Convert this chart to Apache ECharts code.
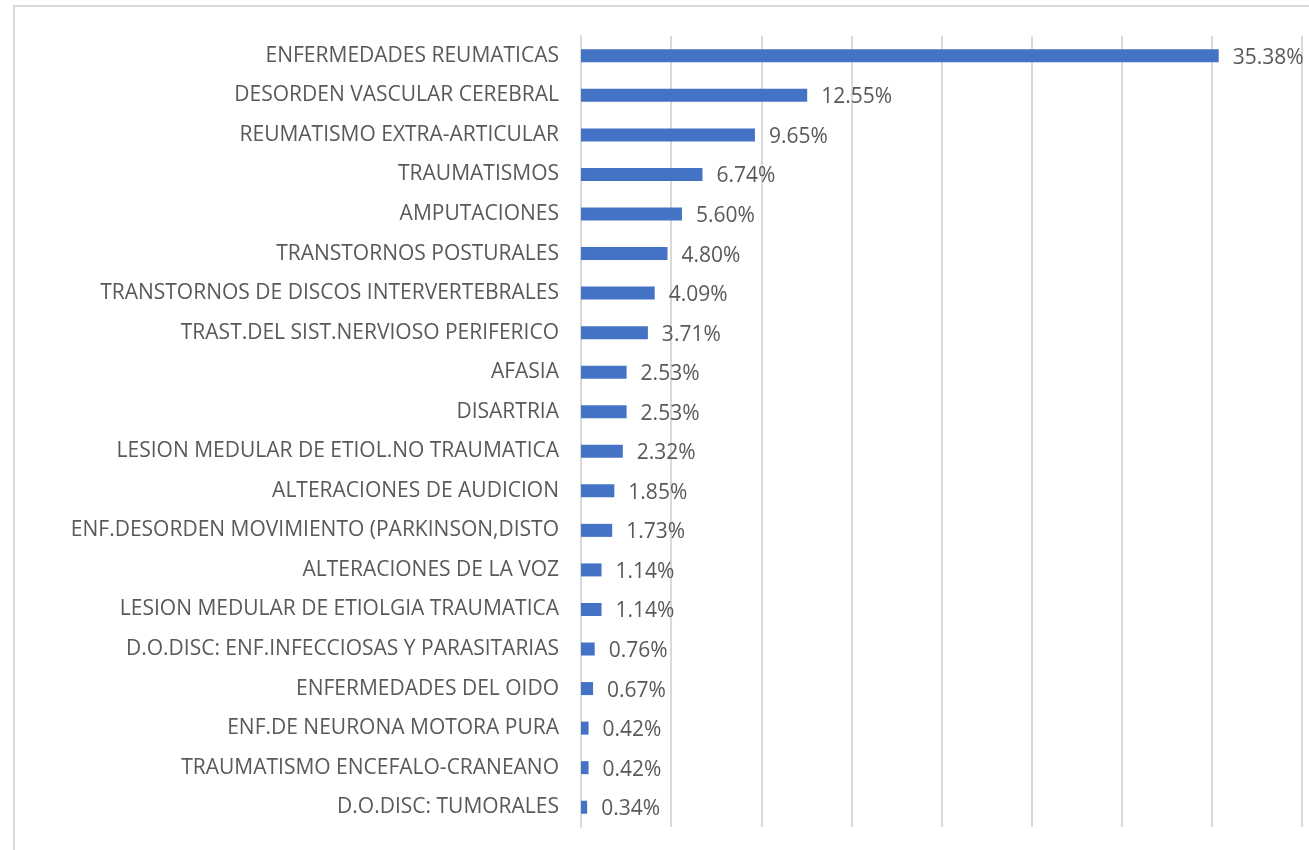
<!DOCTYPE html>
<html>
<head>
<meta charset="utf-8">
<script src="https://cdn.jsdelivr.net/npm/echarts@6/dist/echarts.min.js"></script>
<style>
  html, body { margin: 0; padding: 0; background: #fff; }
  #chart { width: 1309px; height: 850px; }
</style>
</head>
<body>
<div id="chart"></div>
<script>
// categorias, de arriba hacia abajo
const categories = [
    'ENFERMEDADES REUMATICAS',
    'DESORDEN VASCULAR CEREBRAL',
    'REUMATISMO EXTRA-ARTICULAR',
    'TRAUMATISMOS',
    'AMPUTACIONES',
    'TRANSTORNOS POSTURALES',
    'TRANSTORNOS DE DISCOS INTERVERTEBRALES',
    'TRAST.DEL SIST.NERVIOSO PERIFERICO',
    'AFASIA',
    'DISARTRIA',
    'LESION MEDULAR DE ETIOL.NO TRAUMATICA',
    'ALTERACIONES DE AUDICION',
    'ENF.DESORDEN MOVIMIENTO (PARKINSON,DISTO',
    'ALTERACIONES DE LA VOZ',
    'LESION MEDULAR DE ETIOLGIA TRAUMATICA',
    'D.O.DISC: ENF.INFECCIOSAS Y PARASITARIAS',
    'ENFERMEDADES DEL OIDO',
    'ENF.DE NEURONA MOTORA PURA',
    'TRAUMATISMO ENCEFALO-CRANEANO',
    'D.O.DISC: TUMORALES'
];
const percents = [35.38, 12.55, 9.65, 6.74, 5.60, 4.80, 4.09, 3.71, 2.53, 2.53,
    2.32, 1.85, 1.73, 1.14, 1.14, 0.76, 0.67, 0.42, 0.42, 0.34];

let chart = echarts.init(document.getElementById('chart'));

let option = {
    animation: false,
    textStyle: { fontFamily: 'Open Sans' },
    graphic: [{
        type: 'rect',
        shape: { x: 14, y: 6, width: 1400, height: 1000 },
        style: { fill: 'none', stroke: '#d9d9d9', lineWidth: 2 },
        silent: true
    }],
    grid: {
        left: 581,
        right: 7,
        top: 36,
        bottom: 23
    },
    xAxis: {
        type: 'value',
        min: 0,
        max: 40,
        interval: 5,
        axisLabel: { show: false },
        axisLine: { show: false },
        axisTick: { show: false },
        splitLine: { lineStyle: { color: '#d9d9d9', width: 2 } }
    },
    yAxis: {
        type: 'category',
        inverse: true,
        data: categories,
        axisLine: { lineStyle: { color: '#d9d9d9', width: 2 } },
        axisTick: { show: false },
        axisLabel: {
            color: '#595959',
            fontSize: 21,
            margin: 22
        }
    },
    series: [{
        type: 'bar',
        data: percents,
        barWidth: 13,
        itemStyle: { color: '#4472c4' },
        label: {
            show: true,
            position: 'right',
            distance: 14,
            offset: [0, 2],
            color: '#595959',
            fontSize: 21,
            formatter: p => p.value.toFixed(2) + '%'
        }
    }]
};

chart.setOption(option);
window.addEventListener('resize', function () {
    chart.resize();
});
</script>
</body>
</html>
